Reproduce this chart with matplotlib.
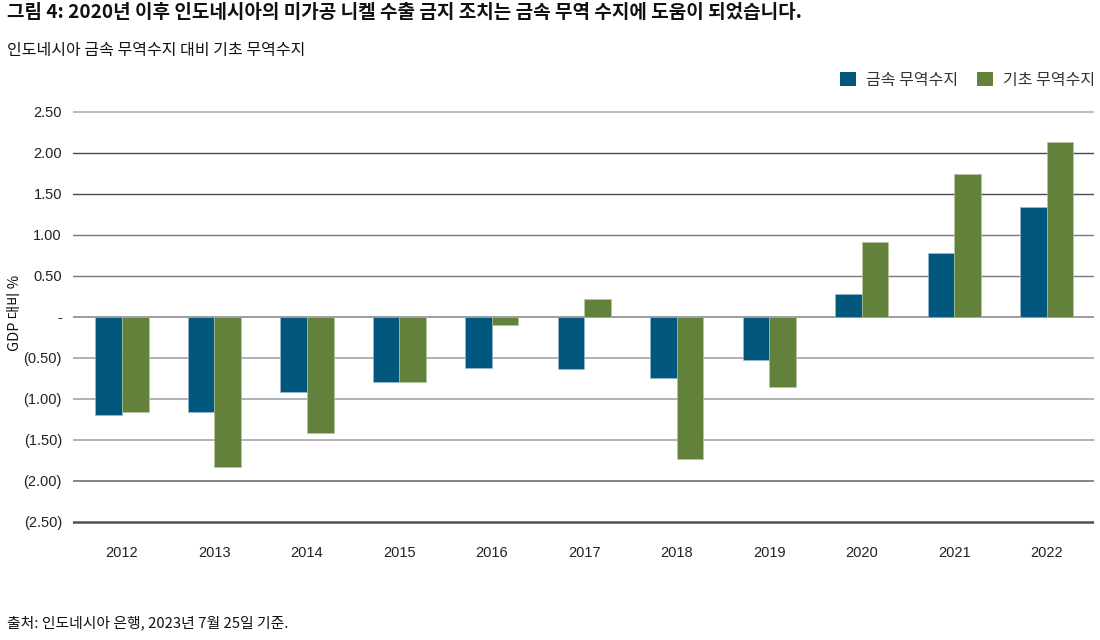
import matplotlib
matplotlib.use("Agg")
import matplotlib.pyplot as plt
from matplotlib.patches import Patch
import numpy as np

years = ["2012", "2013", "2014", "2015", "2016", "2017", "2018", "2019", "2020", "2021", "2022"]
metal_balance = [-1.19, -1.16, -0.91, -0.79, -0.62, -0.64, -0.74, -0.53, 0.28, 0.78, 1.34]
basic_balance = [-1.16, -1.83, -1.41, -0.79, -0.10, 0.22, -1.73, -0.86, 0.92, 1.74, 2.14]
series_names = ["금속 무역수지", "기초 무역수지"]
y_ticks = [2.5, 2.0, 1.5, 1.0, 0.5, 0.0, -0.5, -1.0, -1.5, -2.0, -2.5]
y_tick_labels = ["2.50", "2.00", "1.50", "1.00", "0.50", "-", "(0.50)", "(1.00)", "(1.50)", "(2.00)", "(2.50)"]

title = "그림 4: 2020년 이후 인도네시아의 미가공 니켈 수출 금지 조치는 금속 무역 수지에 도움이 되었습니다."
subtitle = "인도네시아 금속 무역수지 대비 기초 무역수지"
ylabel = "GDP 대비 %"
source = "출처: 인도네시아 은행, 2023년 7월 25일 기준."

KR = ["Noto Sans CJK KR", "DejaVu Sans"]
NARROW = ["Liberation Sans Narrow", "Liberation Sans", "DejaVu Sans"]
plt.rcParams["font.family"] = KR

c_metal = "#01577E"
c_basic = "#62813B"

fig = plt.figure(figsize=(11, 6.4), dpi=100)
ax = fig.add_axes([73 / 1100, 1 - 523.6 / 640, 1021 / 1100, (523.6 - 107.9) / 640])

x = np.arange(len(years))
w = 0.287
ax.bar(x - w / 2, metal_balance, w, color=c_metal, edgecolor="#9fbfd0", linewidth=0.4, zorder=3)
ax.bar(x + w / 2, basic_balance, w, color=c_basic, edgecolor="#b5c79f", linewidth=0.4, zorder=3)

ax.set_xlim(-0.53, 10.51)
ax.set_ylim(-2.52, 2.55)

grid_colors = ["#b0b0b4", "#4a4a52", "#4a4a52", "#7a7a80", "#7a7a80", "#8a8a90",
               "#a6a6aa", "#a6a6aa", "#a6a6aa", "#707076", "#50505a"]
grid_widths = [1.2, 1.0, 1.0, 1.0, 1.0, 1.2, 1.2, 1.2, 1.2, 1.2, 1.8]
for yv, gc, gw in zip(y_ticks, grid_colors, grid_widths):
    ax.axhline(yv, color=gc, linewidth=gw, zorder=1)

ax.set_yticks(y_ticks)
ax.set_yticklabels(y_tick_labels, family=NARROW, fontsize=10.5, color="#222222")
ax.set_xticks(x)
ax.set_xticklabels(years, family=NARROW, fontsize=10.5, color="#222222")
ax.tick_params(axis="both", length=0)
ax.tick_params(axis="y", pad=8)
ax.tick_params(axis="x", pad=16)
for s in ax.spines.values():
    s.set_visible(False)

fig.text(7 / 1100, 1 - 13 / 640, title, fontsize=13.7, fontweight="bold", va="center", ha="left", color="#111111")
fig.text(7 / 1100, 1 - 50 / 640, subtitle, fontsize=11.5, va="center", ha="left", color="#111111")
fig.text(15 / 1100, 1 - 313 / 640, ylabel, fontsize=10.5, rotation=90, va="center", ha="center", color="#111111")
fig.text(7 / 1100, 1 - 623 / 640, source, fontsize=10.7, va="center", ha="left", color="#111111")

handles = [Patch(facecolor=c_metal, edgecolor="none"), Patch(facecolor=c_basic, edgecolor="none")]
fig.legend(handles, series_names, loc="center right", bbox_to_anchor=(1109 / 1100, 1 - 80 / 640),
           ncol=2, frameon=False, fontsize=11.5, handlelength=1.0, handleheight=1.0,
           handletextpad=0.6, columnspacing=1.2, labelcolor="#333333")

fig.savefig("out.png", dpi=100)
